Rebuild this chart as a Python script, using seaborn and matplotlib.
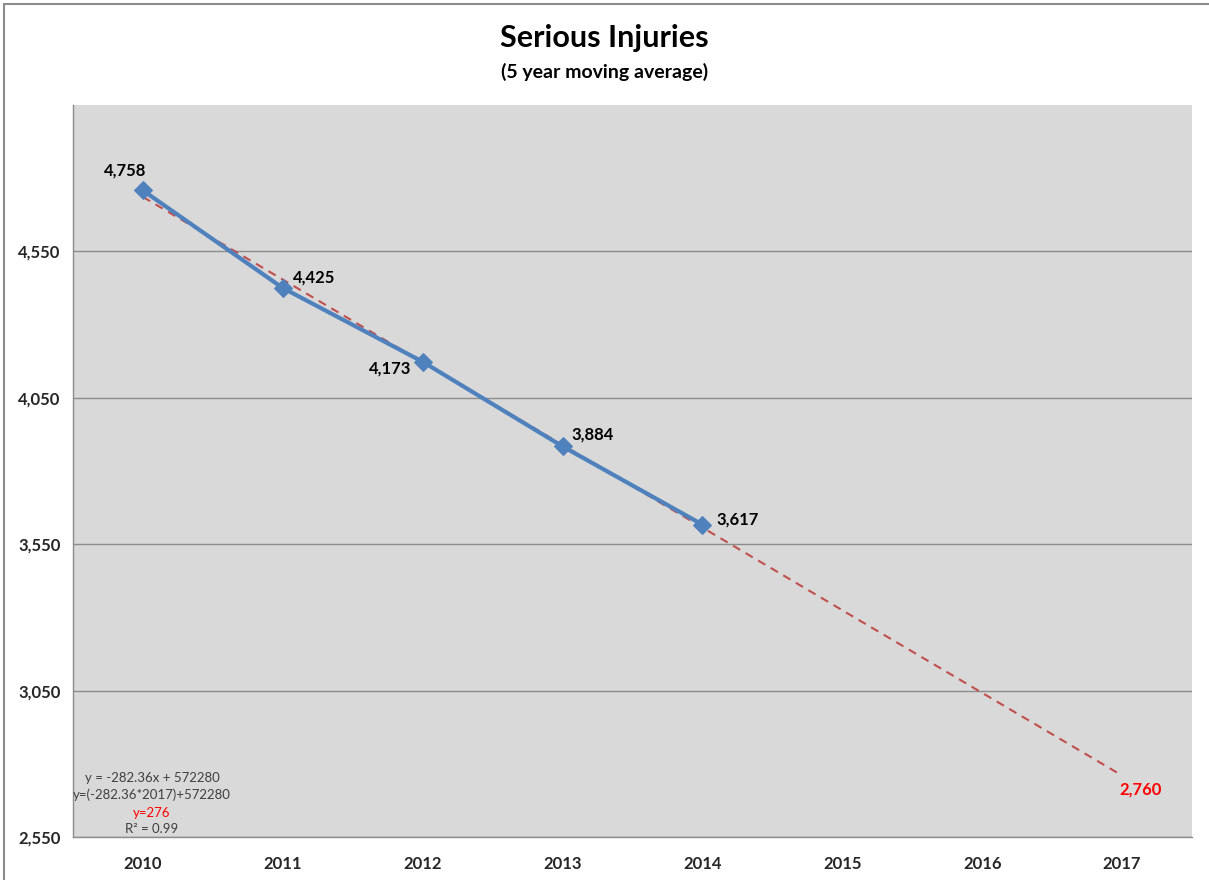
"""
Serious injuries, 5 year moving average, with linear trend to 2017.
"""
import numpy as np
import pandas as pd
import matplotlib
matplotlib.use('Agg')
import matplotlib.pyplot as plt
from matplotlib.ticker import FixedLocator, FuncFormatter
import seaborn as sns

# --- data ---
years = [2010, 2011, 2012, 2013, 2014]
injuries = [4758, 4425, 4173, 3884, 3617]
all_years = [2010, 2011, 2012, 2013, 2014, 2015, 2016, 2017]
y_ticks = [2550, 3050, 3550, 4050, 4550]
eq_lines = ['y = -282.36x + 572280', 'y=(-282.36*2017)+572280', 'y=276', 'R\u00b2 = 0.99']
eq_colors = ['#404040', '#404040', '#FF0000', '#404040']

# trend line from a linear fit of the data, extended to 2017
slope, intercept = np.polyfit(years, injuries, 1)
trend_years = [2010, 2017]
trend_vals = [slope * x + intercept for x in trend_years]

sns.set_style('white')
plt.rcParams['font.family'] = ['Lato', 'DejaVu Sans']

fig = plt.figure(figsize=(12.09, 8.80), dpi=100)
ax = fig.add_axes([73 / 1209, 43 / 880, (1192 - 73) / 1209, (837 - 105) / 880])
ax.set_facecolor('#D9D9D9')

df = pd.DataFrame({'year': years, 'injuries': injuries})
tr = pd.DataFrame({'year': trend_years, 'trend': trend_vals})

sns.lineplot(data=tr, x='year', y='trend', ax=ax, color='#C0504D',
             linestyle=(0, (4, 3)), lw=1.5, zorder=3)
sns.lineplot(data=df, x='year', y='injuries', ax=ax, color='#4F81BD',
             lw=3, marker='D', markersize=9, markeredgecolor='#4F81BD', zorder=4)

ax.set_xlim(2009.5, 2017.5)
ax.set_ylim(2550, 5050)

# y axis
ax.yaxis.set_major_locator(FixedLocator(y_ticks))
ax.yaxis.set_major_formatter(FuncFormatter(lambda v, p: f'{int(v):,}'))
ax.grid(axis='y', color='#8C8C8C', lw=1)
ax.set_axisbelow(True)

# x axis: ticks between categories, labels at centres
ax.xaxis.set_major_locator(FixedLocator([y - 0.5 for y in all_years] + [2017.5]))
ax.xaxis.set_major_formatter(FuncFormatter(lambda v, p: ''))
ax.xaxis.set_minor_locator(FixedLocator(all_years))
ax.xaxis.set_minor_formatter(FuncFormatter(lambda v, p: str(int(round(v)))))
ax.tick_params(axis='x', which='major', length=7, width=1, color='#8C8C8C', direction='out')
ax.tick_params(axis='x', which='minor', length=0, pad=14, labelsize=12)
ax.tick_params(axis='y', length=6, width=1, color='#8C8C8C', direction='out', pad=3, labelsize=12)
for lab in ax.get_xticklabels(minor=True) + ax.get_yticklabels():
    lab.set_fontweight('bold')

for side in ['top', 'right']:
    ax.spines[side].set_visible(False)
for side in ['left', 'bottom']:
    ax.spines[side].set_color('#8C8C8C')
    ax.spines[side].set_linewidth(1)

ax.set_xlabel('')
ax.set_ylabel('')

# data labels
offsets = [(-18, 20), (31, 10), (-33, -7), (30, 12), (35, 5)]
for x, v, off in zip(years, injuries, offsets):
    ax.annotate(f'{v:,}', (x, v), xytext=off, textcoords='offset pixels',
                ha='center', va='center', fontsize=12, fontweight='bold', color='black')
ax.annotate(f'{trend_vals[-1]:,.0f}', (trend_years[-1], trend_vals[-1]), xytext=(18, -14),
            textcoords='offset pixels', ha='center', va='center',
            fontsize=12, fontweight='bold', color='#FF0000')

# trend equation box
eq_x = 152 / 1209
for txt, col, ypix in zip(eq_lines, eq_colors, [778, 795, 813, 829]):
    fig.text(eq_x, 1 - ypix / 880, txt, ha='center', va='center', fontsize=9.5, color=col)

# titles
fig.text(0.5, 1 - 38 / 880, 'Serious Injuries', ha='center', va='center',
         fontsize=22, fontweight='bold', color='black')
fig.text(0.5, 1 - 72 / 880, '(5 year moving average)', ha='center', va='center',
         fontsize=14, fontweight='bold', color='black')

# outer chart border (top and left edges visible)
fig.add_artist(plt.Line2D([4 / 1209, 4 / 1209], [0, 1 - 4 / 880], transform=fig.transFigure,
                          color='#8C8C8C', lw=1.5))
fig.add_artist(plt.Line2D([4 / 1209, 1], [1 - 4 / 880, 1 - 4 / 880], transform=fig.transFigure,
                          color='#8C8C8C', lw=1.5))

plt.savefig('out.png', dpi=100)
plt.close()
print("Saved: out.png")
